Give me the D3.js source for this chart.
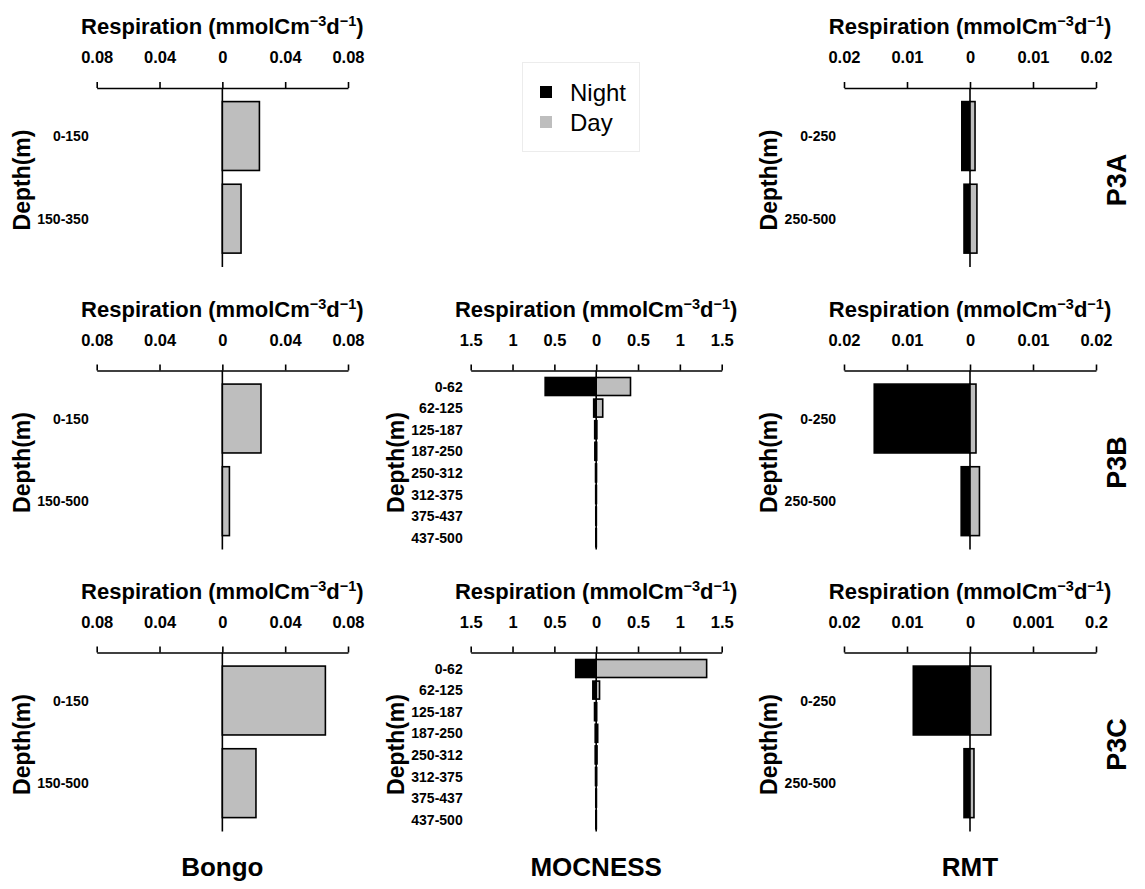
<!DOCTYPE html>
<html>
<head>
<meta charset="utf-8">
<script src="https://cdn.jsdelivr.net/npm/d3@7"></script>
<style>
  html, body { margin: 0; padding: 0; background: #fff; }
  svg text { font-family: "Liberation Sans", Arial, Helvetica, sans-serif; fill: #000; }
</style>
</head>
<body>
<svg id="chart" width="1145" height="889"></svg>
<script>
// ---- data: respiration (mmol C m^-3 d^-1) by depth layer, night vs day ----
const stations = ["P3A", "P3B", "P3C"];
const instruments = ["Bongo", "MOCNESS", "RMT"];

// Bongo (day tows only)
const bongoBinsP3A = ["0-150", "150-350"];
const bongoBinsP3BC = ["0-150", "150-500"];
const bongoDayP3A = [0.0236, 0.0119];
const bongoDayP3B = [0.0246, 0.0045];
const bongoDayP3C = [0.0656, 0.0214];

// MOCNESS (no P3A casts)
const mocBins = ["0-62", "62-125", "125-187", "187-250", "250-312", "312-375", "375-437", "437-500"];
const mocNightP3B = [0.61, 0.03, 0.018, 0.016, 0.008, 0.006, 0.005, 0.004];
const mocDayP3B   = [0.41, 0.078, 0.008, 0.006, 0.004, 0.003, 0.002, 0.002];
const mocNightP3C = [0.245, 0.04, 0.02, 0.012, 0.012, 0.008, 0.005, 0.004];
const mocDayP3C   = [1.32, 0.04, 0.006, 0.018, 0.01, 0.006, 0.003, 0.002];

// RMT
const rmtBins = ["0-250", "250-500"];
const rmtNightP3A = [0.0013, 0.00095];
const rmtDayP3A   = [0.0008, 0.0011];
const rmtNightP3B = [0.0152, 0.0014];
const rmtDayP3B   = [0.00095, 0.0015];
const rmtNightP3C = [0.009, 0.00095];
const rmtDayP3C   = [0.0033, 0.00063];

// axis ticks and their printed labels
const bongoTicks = [-0.08, -0.04, 0, 0.04, 0.08];
const bongoTickLabels = ["0.08", "0.04", "0", "0.04", "0.08"];
const mocTicks = [-1.5, -1, -0.5, 0, 0.5, 1, 1.5];
const mocTickLabels = ["1.5", "1", "0.5", "0", "0.5", "1", "1.5"];
const rmtTicks = [-0.02, -0.01, 0, 0.01, 0.02];
const rmtTickLabels = ["0.02", "0.01", "0", "0.01", "0.02"];
const rmtTickLabelsP3C = ["0.02", "0.01", "0", "0.001", "0.2"];

const legendKeys = ["Night", "Day"];

// ---- panel table built from the arrays above ----
const panels = [
  { row: 0, col: 0, bins: bongoBinsP3A, night: null, day: bongoDayP3A, ticks: bongoTicks, labels: bongoTickLabels, dom: 0.08 },
  { row: 0, col: 2, bins: rmtBins, night: rmtNightP3A, day: rmtDayP3A, ticks: rmtTicks, labels: rmtTickLabels, dom: 0.02 },
  { row: 1, col: 0, bins: bongoBinsP3BC, night: null, day: bongoDayP3B, ticks: bongoTicks, labels: bongoTickLabels, dom: 0.08 },
  { row: 1, col: 1, bins: mocBins, night: mocNightP3B, day: mocDayP3B, ticks: mocTicks, labels: mocTickLabels, dom: 1.5 },
  { row: 1, col: 2, bins: rmtBins, night: rmtNightP3B, day: rmtDayP3B, ticks: rmtTicks, labels: rmtTickLabels, dom: 0.02 },
  { row: 2, col: 0, bins: bongoBinsP3BC, night: null, day: bongoDayP3C, ticks: bongoTicks, labels: bongoTickLabels, dom: 0.08 },
  { row: 2, col: 1, bins: mocBins, night: mocNightP3C, day: mocDayP3C, ticks: mocTicks, labels: mocTickLabels, dom: 1.5 },
  { row: 2, col: 2, bins: rmtBins, night: rmtNightP3C, day: rmtDayP3C, ticks: rmtTicks, labels: rmtTickLabelsP3C, dom: 0.02 }
];

// ---- layout ----
const svg = d3.select("#chart");
const rowAxisY = [88, 370.5, 652.5];          // y of the top axis line of each row
const colX = [[96.7, 348], [470.7, 721.7], [844, 1096]];
const plotDepth = 179;                          // length of the zero line below the axis
const NIGHT = "#000000", DAY = "#bebebe";

function drawTitle(g, cx, y) {
  const t = g.append("text")
    .attr("x", cx).attr("y", y)
    .attr("text-anchor", "middle")
    .attr("font-size", 22).attr("font-weight", "bold");
  t.append("tspan").text("Respiration (mmolCm");
  t.append("tspan").attr("dy", -8).attr("font-size", 14.5).text("\u22123");
  t.append("tspan").attr("dy", 8).text("d");
  t.append("tspan").attr("dy", -8).attr("font-size", 14.5).text("\u22121");
  t.append("tspan").attr("dy", 8).text(")");
}

panels.forEach(p => {
  const a = rowAxisY[p.row];
  const [x0, x1] = colX[p.col];
  const g = svg.append("g");

  const x = d3.scaleLinear().domain([-p.dom, p.dom]).range([x0, x1]);
  const isMoc = p.bins.length > 2;
  const y = d3.scaleBand()
    .domain(p.bins)
    .range(isMoc ? [a + 5.2, a + 178] : [a + 6.7, a + 172])
    .paddingInner(1 / 6)
    .paddingOuter(1 / 12);

  // top axis
  const axis = d3.axisTop(x)
    .tickValues(p.ticks)
    .tickSize(6)
    .tickSizeOuter(0)
    .tickPadding(19)
    .tickFormat((d, i) => p.labels[i]);
  const ag = g.append("g").attr("transform", `translate(0,${a})`).call(axis);
  ag.select(".domain").attr("stroke", "#000").attr("stroke-width", 1.6);
  ag.selectAll(".tick line").attr("stroke", "#000").attr("stroke-width", 1.6);
  ag.selectAll(".tick text")
    .attr("font-size", 16.5).attr("font-weight", "bold")
    .attr("font-family", "'Liberation Sans', Arial, sans-serif")
    .attr("fill", "#000");

  drawTitle(g, (x0 + x1) / 2, a - 54);

  // zero line
  g.append("line")
    .attr("x1", x(0)).attr("x2", x(0))
    .attr("y1", a).attr("y2", a + plotDepth)
    .attr("stroke", "#000").attr("stroke-width", 1.6);

  // bars
  const rows = p.bins.map((b, i) => ({ bin: b, night: p.night ? p.night[i] : null, day: p.day[i] }));
  if (p.night) {
    g.selectAll("rect.night").data(rows).join("rect")
      .attr("class", "night")
      .attr("x", d => x(-d.night)).attr("width", d => x(0) - x(-d.night))
      .attr("y", d => y(d.bin)).attr("height", y.bandwidth())
      .attr("fill", NIGHT).attr("stroke", "#000").attr("stroke-width", 1.6);
  }
  g.selectAll("rect.day").data(rows).join("rect")
    .attr("class", "day")
    .attr("x", x(0)).attr("width", d => x(d.day) - x(0))
    .attr("y", d => y(d.bin)).attr("height", y.bandwidth())
    .attr("fill", DAY).attr("stroke", "#000").attr("stroke-width", 1.6);

  // depth-bin labels
  g.selectAll("text.bin").data(p.bins).join("text")
    .attr("class", "bin")
    .attr("x", x0 - 8).attr("y", d => y(d) + y.bandwidth() / 2)
    .attr("text-anchor", "end").attr("dominant-baseline", "central")
    .attr("font-size", 14).attr("font-weight", "bold")
    .text(d => d);

  // y-axis title
  const dx = x0 - 75, dy = a + 92;
  g.append("text")
    .attr("transform", `translate(${dx},${dy}) rotate(-90)`)
    .attr("text-anchor", "middle").attr("dominant-baseline", "central")
    .attr("font-size", 23).attr("font-weight", "bold")
    .text("Depth(m)");
});

// station labels on the right
stations.forEach((s, i) => {
  svg.append("text")
    .attr("transform", `translate(1117,${rowAxisY[i] + 92}) rotate(-90)`)
    .attr("text-anchor", "middle").attr("dominant-baseline", "central")
    .attr("font-size", 27).attr("font-weight", "bold")
    .text(s);
});

// instrument labels along the bottom
instruments.forEach((s, i) => {
  svg.append("text")
    .attr("x", (colX[i][0] + colX[i][1]) / 2).attr("y", 867)
    .attr("text-anchor", "middle").attr("dominant-baseline", "central")
    .attr("font-size", 26).attr("font-weight", "bold")
    .text(s);
});

// legend
const lg = svg.append("g");
lg.append("rect")
  .attr("x", 522.5).attr("y", 62.5).attr("width", 117).attr("height", 89)
  .attr("fill", "#fff").attr("stroke", "#ececec").attr("stroke-width", 1);
legendKeys.forEach((k, i) => {
  const cy = 92 + i * 30;
  lg.append("rect")
    .attr("x", 540).attr("y", cy - 6).attr("width", 12).attr("height", 12)
    .attr("fill", i === 0 ? NIGHT : DAY);
  lg.append("text")
    .attr("x", 570).attr("y", cy)
    .attr("dominant-baseline", "central")
    .attr("font-size", 24)
    .text(k);
});
</script>
</body>
</html>
